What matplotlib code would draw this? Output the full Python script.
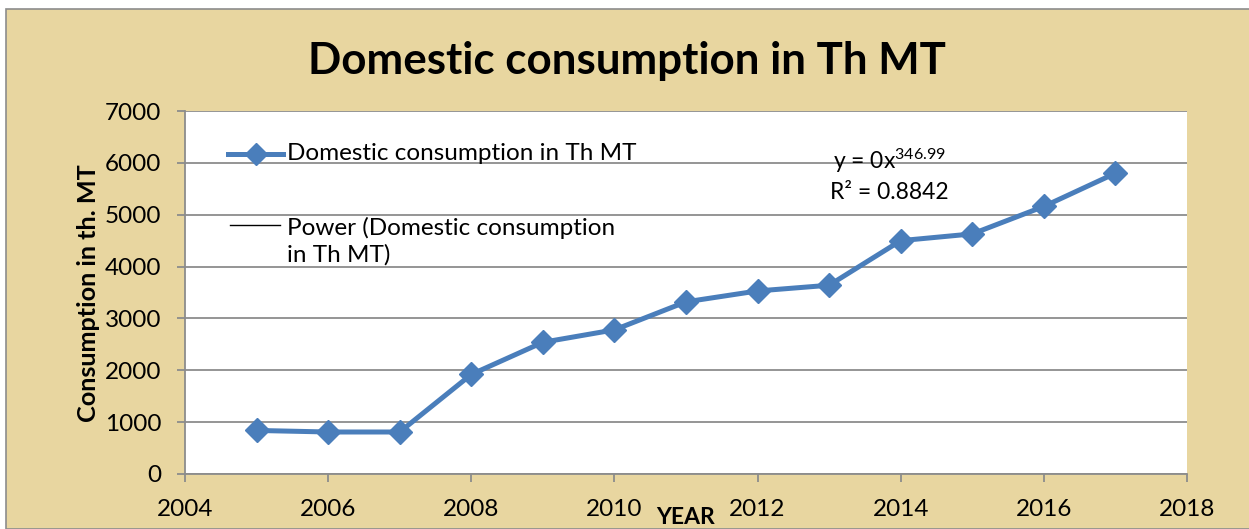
import matplotlib.pyplot as plt
from matplotlib.patches import Rectangle
from matplotlib.lines import Line2D

# data
years = [2005, 2006, 2007, 2008, 2009, 2010, 2011, 2012, 2013, 2014, 2015, 2016, 2017]
consumption = [840, 810, 810, 1920, 2540, 2780, 3320, 3530, 3640, 4500, 4630, 5160, 5800]
x_ticks = [2004, 2006, 2008, 2010, 2012, 2014, 2016, 2018]
y_ticks = [0, 1000, 2000, 3000, 4000, 5000, 6000, 7000]

title = "Domestic consumption in Th MT"
series_label = "Domestic consumption in Th MT"
trend_label = "Power (Domestic consumption\nin Th MT)"

plt.rcParams['font.family'] = ['Lato', 'DejaVu Sans']
plt.rcParams['mathtext.fontset'] = 'custom'
plt.rcParams['mathtext.rm'] = 'Lato'
plt.rcParams['mathtext.it'] = 'Lato'

W, H = 1249, 529
fig = plt.figure(figsize=(W / 100, H / 100), dpi=100)
fig.patch.set_facecolor('white')

# parchment-coloured chart area with grey border
bg = Rectangle((6 / W, 0), 1, 1 - 9 / H, transform=fig.transFigure,
               facecolor='#E8D6A0', edgecolor='#8C8C8C', lw=1.2, zorder=-5)
fig.patches.append(bg)

ax = fig.add_axes([185 / W, (H - 474) / H, (1187 - 185) / W, (474 - 111) / H])
ax.set_facecolor('white')

ax.plot(years, consumption, color='#4A7EBB', lw=3.6, marker='D', markersize=12,
        markerfacecolor='#4A7EBB', markeredgecolor='#4A7EBB', zorder=3)

ax.set_xlim(2004, 2018)
ax.set_ylim(0, 7000)
ax.set_xticks(x_ticks)
ax.set_yticks(y_ticks)
ax.yaxis.grid(True, color='#8C8C8C', lw=1.3)
ax.set_axisbelow(True)

for s in ['top', 'right']:
    ax.spines[s].set_visible(False)
for s in ['left', 'bottom']:
    ax.spines[s].set_color('#8C8C8C')
    ax.spines[s].set_linewidth(1.3)
ax.tick_params(axis='both', colors='#8C8C8C', length=5.5, width=1.3, labelsize=17.5,
               labelcolor='black')
ax.tick_params(axis='x', pad=12.5)
ax.tick_params(axis='y', pad=11.5)

# legend drawn in axes fraction
ax.add_line(Line2D([0.043, 0.098], [0.882, 0.882], transform=ax.transAxes, color='#4A7EBB',
                   lw=3.6, clip_on=False))
ax.add_line(Line2D([0.0705], [0.882], transform=ax.transAxes, marker='D', markersize=11,
                   color='#4A7EBB', clip_on=False))
ax.text(0.102, 0.882, series_label, transform=ax.transAxes, fontsize=17.5, va='center')
ax.add_line(Line2D([0.045, 0.095], [0.686, 0.686], transform=ax.transAxes, color='black',
                   lw=1, clip_on=False))
ax.text(0.102, 0.708, trend_label, transform=ax.transAxes, fontsize=17.5, va='top',
        linespacing=1.3)

# trendline equation
ax.text(0.703, 0.862, r'y = 0x$^{346.99}$', transform=ax.transAxes, fontsize=16.5,
        ha='center', va='center')
ax.text(0.703, 0.776, 'R\u00b2 = 0.8842', transform=ax.transAxes, fontsize=16.5,
        ha='center', va='center')

fig.text(627 / W, 1 - 61 / H, title, fontsize=31.6, fontweight='bold', ha='center', va='center')
fig.text(88 / W, 1 - 293 / H, 'Consumption in th. MT', fontsize=18.2, fontweight='bold',
         rotation=90, ha='center', va='center')
fig.text(686 / W, 1 - 517 / H, 'YEAR', fontsize=16.5, fontweight='bold', ha='center',
         va='center')

fig.savefig('out.png', dpi=100)
